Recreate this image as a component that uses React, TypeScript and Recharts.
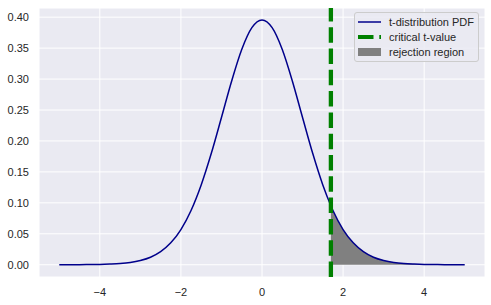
import React from "react";
import {
  ComposedChart,
  Line,
  Area,
  XAxis,
  YAxis,
  CartesianGrid,
  ReferenceLine,
  Legend,
} from "recharts";

// t values where the density was read, plus the critical value itself
const tValues = [
  -5, -4.75, -4.5, -4.25, -4, -3.75, -3.5, -3.25, -3, -2.75, -2.5, -2.25, -2,
  -1.75, -1.5, -1.25, -1, -0.75, -0.5, -0.25, 0, 0.25, 0.5, 0.75, 1, 1.25, 1.5,
  1.699, 1.75, 2, 2.25, 2.5, 2.75, 3, 3.25, 3.5, 3.75, 4, 4.25, 4.5, 4.75, 5,
];

const pdfValues = [
  0.0, 0.0001, 0.0001, 0.0003, 0.0005, 0.0011, 0.002, 0.0037, 0.0069, 0.0122,
  0.0212, 0.0354, 0.0569, 0.0877, 0.1289, 0.18, 0.2379, 0.2965, 0.3477, 0.383,
  0.3955, 0.383, 0.3477, 0.2965, 0.2379, 0.18, 0.1289, 0.0953, 0.0877, 0.0569,
  0.0354, 0.0212, 0.0122, 0.0069, 0.0037, 0.002, 0.0011, 0.0005, 0.0003, 0.0001,
  0.0001, 0.0,
];

const criticalT = 1.699;

const xTicks = [-4, -2, 0, 2, 4];
const yTicks = [0, 0.05, 0.1, 0.15, 0.2, 0.25, 0.3, 0.35, 0.4];

const data = tValues.map((t, i) => ({
  x: t,
  pdf: pdfValues[i],
  tail: t >= criticalT ? pdfValues[i] : null,
}));

const FONT = "'Liberation Sans', Arial, sans-serif";
const TEXT = "#262626";

const fmtX = (v: number) => String(v).replace("-", "\u2212");

function LegendBox() {
  const row: React.CSSProperties = {
    display: "flex",
    alignItems: "center",
    height: 15.4,
  };
  const label: React.CSSProperties = { marginLeft: 8, whiteSpace: "nowrap" };
  return (
    <div
      style={{
        boxSizing: "border-box",
        width: 125,
        height: 50,
        border: "1px solid #cccccc",
        borderRadius: 3,
        background: "rgba(234,234,242,0.85)",
        paddingLeft: 3,
        paddingTop: 1,
        fontFamily: FONT,
        fontSize: 11,
        color: TEXT,
      }}
    >
      <div style={row}>
        <svg width={23} height={10}>
          <line x1={0} x2={23} y1={5} y2={5} stroke="#00008b" strokeWidth={1.5} />
        </svg>
        <span style={label}>t-distribution PDF</span>
      </div>
      <div style={row}>
        <svg width={23} height={10}>
          <line
            x1={0}
            x2={23}
            y1={5}
            y2={5}
            stroke="#008000"
            strokeWidth={4}
            strokeDasharray="15.5 5.8"
          />
        </svg>
        <span style={label}>critical t-value</span>
      </div>
      <div style={row}>
        <svg width={23} height={10}>
          <rect x={0} y={1} width={23} height={8} fill="#808080" />
        </svg>
        <span style={label}>rejection region</span>
      </div>
    </div>
  );
}

export default function App() {
  return (
    <div style={{ position: "absolute", left: 0, top: 0, background: "#fff" }}>
      <ComposedChart
        width={491}
        height={305}
        data={data}
        margin={{ top: 8, right: 6, bottom: 0, left: 0 }}
      >
        <CartesianGrid fill="#eaeaf2" stroke="#ffffff" strokeWidth={1} />
        <XAxis
          dataKey="x"
          type="number"
          domain={[-5.5, 5.5]}
          ticks={xTicks}
          tickFormatter={fmtX}
          allowDataOverflow
          axisLine={false}
          tickLine={false}
          tickSize={0}
          tickMargin={11}
          height={28}
          tick={{ fill: TEXT, fontSize: 11, fontFamily: FONT }}
        />
        <YAxis
          type="number"
          domain={[-0.0198, 0.4148]}
          ticks={yTicks}
          tickFormatter={(v: number) => v.toFixed(2)}
          allowDataOverflow
          axisLine={false}
          tickLine={false}
          tickSize={0}
          tickMargin={10}
          width={39}
          tick={{ fill: TEXT, fontSize: 11, fontFamily: FONT }}
        />
        <Area
          dataKey="tail"
          type="monotone"
          fill="#808080"
          fillOpacity={1}
          stroke="none"
          isAnimationActive={false}
        />
        <Line
          dataKey="pdf"
          type="monotone"
          stroke="#00008b"
          strokeWidth={1.5}
          dot={false}
          activeDot={false}
          isAnimationActive={false}
        />
        <ReferenceLine
          x={criticalT}
          stroke="#008000"
          strokeWidth={4.3}
          strokeDasharray="15.5 5.8"
        />
        <Legend
          layout="horizontal"
          verticalAlign="middle"
          align="center"
          wrapperStyle={{ left: 354, top: 12, width: 125, height: 50 }}
          content={() => <LegendBox />}
        />
      </ComposedChart>
    </div>
  );
}
